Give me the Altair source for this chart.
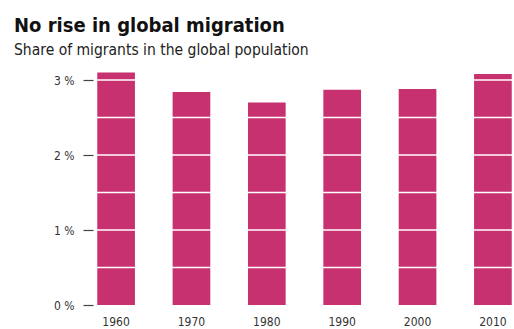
import altair as alt
import pandas as pd

years = ["1960", "1970", "1980", "1990", "2000", "2010"]
shares = [3.10, 2.84, 2.70, 2.87, 2.88, 3.08]
grid_levels = [0.5, 1.0, 1.5, 2.0, 2.5, 3.0]

bars_df = pd.DataFrame({"year": years, "share": shares})
grid_df = pd.DataFrame({"level": grid_levels})

FONT = "'DejaVu Sans Condensed', 'Roboto', sans-serif"

x_scale = alt.Scale(domain=years, paddingInner=0.5, paddingOuter=0.03)
y_scale = alt.Scale(domain=[0, 3.2], nice=False)

bars = alt.Chart(bars_df).mark_bar(color="#C8316F").encode(
    x=alt.X("year:N", scale=x_scale, sort=years,
            axis=alt.Axis(title=None, domain=False, ticks=False, labelAngle=0,
                          labelPadding=11, labelFontSize=12, labelColor="#333333",
                          labelFont=FONT)),
    y=alt.Y("share:Q", scale=y_scale,
            axis=alt.Axis(title=None, domain=False, values=[0, 1, 2, 3],
                          labelExpr="datum.value + ' %'", tickSize=10, offset=2,
                          tickColor="#444444", tickWidth=1.2, labelPadding=9,
                          labelFontSize=12, labelColor="#333333", labelFont=FONT,
                          grid=False)),
)

rules = alt.Chart(grid_df).mark_rule(color="white", strokeWidth=1.5).encode(
    y=alt.Y("level:Q", scale=y_scale),
)

chart = alt.layer(bars, rules).properties(
    width=419,
    height=240,
    autosize=alt.AutoSizeParams(type="none"),
    padding={"left": 95, "top": 65, "right": 0, "bottom": 24},
    title=alt.Title(
        "No rise in global migration",
        subtitle="Share of migrants in the global population",
        anchor="start", frame="group", dx=-81, offset=7,
        font=FONT, fontSize=20, fontWeight="bold", color="#111111",
        subtitleFont=FONT, subtitleFontSize=15.5, subtitleColor="#222222",
        subtitlePadding=7,
    ),
).configure_view(stroke=None)

chart.save("out.html", embed_options={"renderer": "svg", "actions": False})
